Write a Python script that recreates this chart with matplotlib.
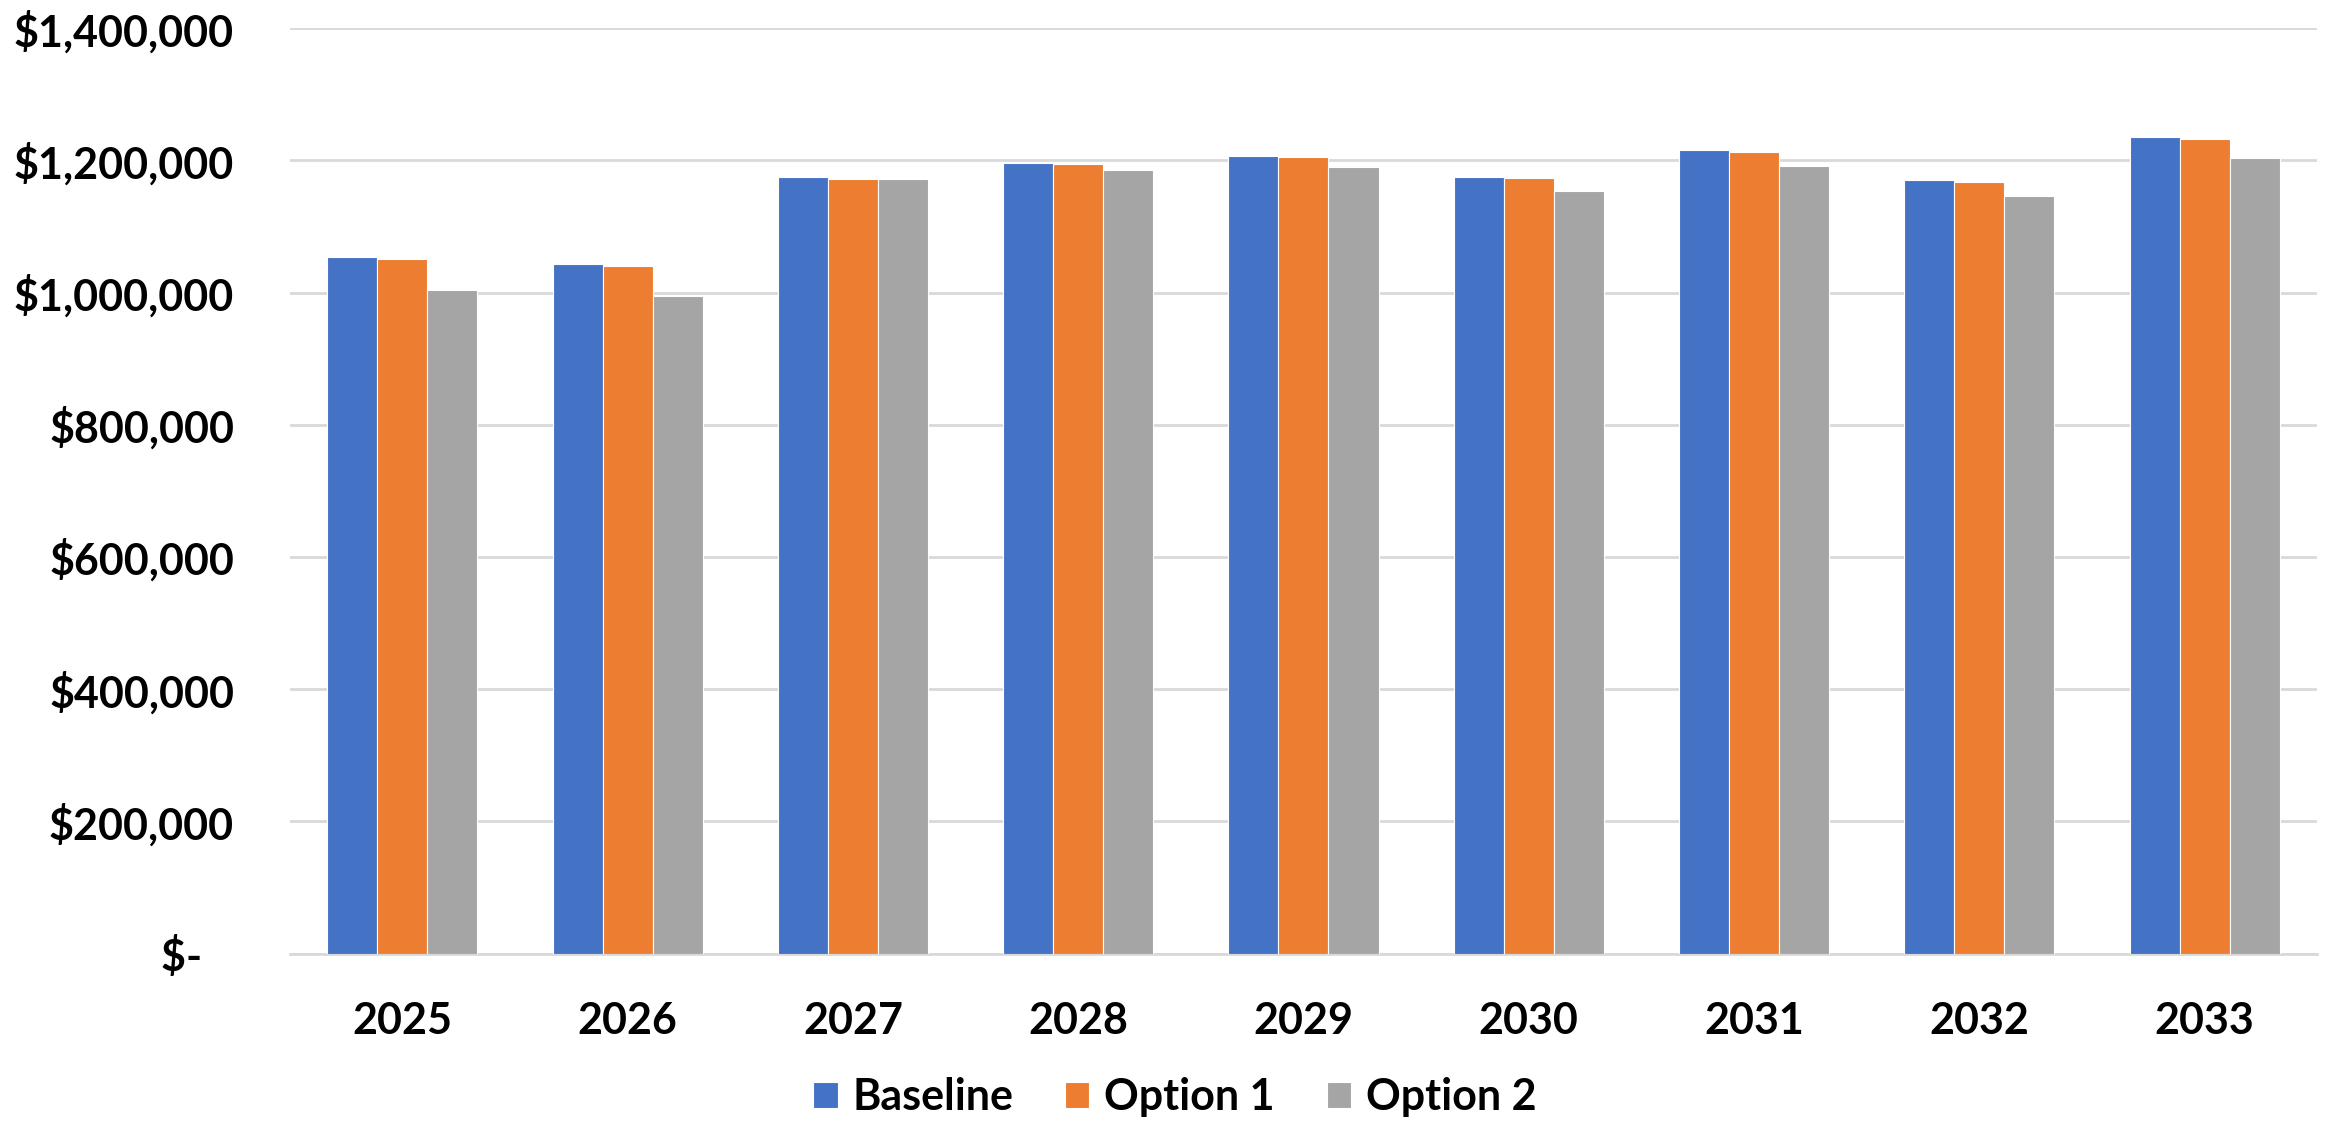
import matplotlib.pyplot as plt
import numpy as np
from matplotlib.ticker import FuncFormatter

# ===== DATA =====

years = ["2025", "2026", "2027", "2028", "2029", "2030", "2031", "2032", "2033"]

baseline = [1054000, 1043500, 1175000, 1196500, 1207000, 1175300, 1215000, 1169700, 1234800]
option1 = [1050500, 1040000, 1172300, 1194000, 1204500, 1172800, 1212000, 1167200, 1231800]
option2 = [1003600, 995000, 1171800, 1186000, 1190000, 1153700, 1191000, 1146000, 1204000]

series_names = ["Baseline", "Option 1", "Option 2"]
colores = ["#4472C4", "#ED7D31", "#A5A5A5"]

# ===== GRAFICA =====

plt.rcParams["font.family"] = ["Lato", "DejaVu Sans"]
plt.rcParams["font.weight"] = "bold"

fig = plt.figure(figsize=(23.36, 11.22), dpi=100)
ax = fig.add_axes([0.124, 0.150, 0.868, 0.825])

x = np.arange(len(years))
ancho = 0.222

for i, (valores, nombre) in enumerate(zip([baseline, option1, option2], series_names)):
    ax.bar(x + (i - 1) * ancho, valores, ancho, color=colores[i], label=nombre,
           edgecolor="white", linewidth=0.8, zorder=3)

ax.set_xlim(-0.5, len(years) - 0.5)
ax.set_ylim(0, 1400000)
ax.set_yticks(np.arange(0, 1400001, 200000))


def formato(v, pos):
    if v == 0:
        return "$-   "
    return f"${v:,.0f}"


ax.yaxis.set_major_formatter(FuncFormatter(formato))
ax.set_xticks(x)
ax.set_xticklabels(years)

ax.grid(axis="y", color="#D9D9D9", linewidth=2, zorder=0)
for lado in ["top", "right", "left"]:
    ax.spines[lado].set_visible(False)
ax.spines["bottom"].set_color("#D9D9D9")
ax.spines["bottom"].set_linewidth(2)

ax.tick_params(axis="y", length=0, pad=40, labelsize=31)
ax.tick_params(axis="x", length=0, pad=34, labelsize=31)
for t in ax.get_xticklabels() + ax.get_yticklabels():
    t.set_fontweight("bold")

fig.legend(loc="center", bbox_to_anchor=(0.503, 0.022), ncol=3, frameon=False,
           prop={"size": 31, "weight": "bold"}, handlelength=0.56, handleheight=0.56,
           handletextpad=0.35, columnspacing=1.2)

plt.savefig("out.png", dpi=100)
plt.close()
